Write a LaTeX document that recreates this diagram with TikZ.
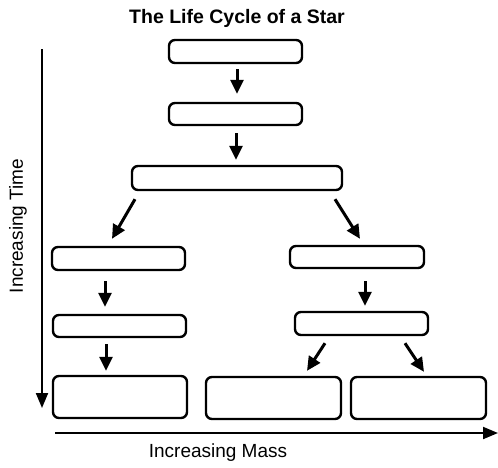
\documentclass[tikz,border=0pt]{standalone}
\usepackage{fontspec}
\setmainfont{Liberation Sans}
\usetikzlibrary{arrows.meta}
\begin{document}
\begin{tikzpicture}[x=1pt,y=-1pt,
  stagebox/.style={draw=black,line width=2.4pt,rounded corners=6pt,inner sep=0pt,fill=white},
  flow/.style={line width=3pt,-{Triangle[length=14pt,width=13pt]}},
  axis/.style={line width=2pt,-{Triangle[length=15pt,width=12pt]}},
  lbl/.style={font=\fontsize{19}{22}\selectfont,inner sep=0pt}]
\useasboundingbox (0,0) rectangle (498,467);
\node[lbl,font=\fontsize{19.5}{22}\selectfont\bfseries] (title) at (237,18) {The Life Cycle of a Star};
\node[stagebox,minimum width=133pt,minimum height=23pt] (b1) at (235.5,51.5) {};
\node[stagebox,minimum width=133pt,minimum height=22pt] (b2) at (235.5,114) {};
\node[stagebox,minimum width=210pt,minimum height=24pt] (b3) at (237,178) {};
\node[stagebox,minimum width=133pt,minimum height=23pt] (l1) at (118.5,258.5) {};
\node[stagebox,minimum width=134pt,minimum height=22pt] (r1) at (357,257) {};
\node[stagebox,minimum width=133pt,minimum height=22pt] (l2) at (119.5,326) {};
\node[stagebox,minimum width=133pt,minimum height=23pt] (r2) at (361.5,323.5) {};
\node[stagebox,minimum width=134pt,minimum height=42pt] (l3) at (120,397) {};
\node[stagebox,minimum width=135pt,minimum height=42pt] (m3) at (273.5,398) {};
\node[stagebox,minimum width=135pt,minimum height=42pt] (r3) at (418.5,398) {};
\draw[flow] ([xshift=1.5pt,yshift=-5pt]b1.south) -- ([xshift=1.5pt,yshift=8pt]b2.north);
\draw[flow] ([xshift=0.5pt,yshift=-7pt]b2.south) -- ([xshift=-1pt,yshift=5pt]b3.north);
\draw[flow] ([xshift=-102pt,yshift=-8pt]b3.south) -- ([xshift=-6.5pt,yshift=7pt]l1.north);
\draw[flow] ([xshift=98pt,yshift=-8pt]b3.south) -- ([xshift=3pt,yshift=6pt]r1.north);
\draw[flow] ([xshift=-13.5pt,yshift=-10pt]l1.south) -- ([xshift=-14.5pt,yshift=7pt]l2.north);
\draw[flow] ([xshift=8pt,yshift=-12pt]r1.south) -- ([xshift=3.5pt,yshift=5pt]r2.north);
\draw[flow] ([xshift=-13.5pt,yshift=-6pt]l2.south) -- ([xshift=-14pt,yshift=4pt]l3.north);
\draw[flow] ([xshift=-36.5pt,yshift=-7pt]r2.south) -- ([xshift=33.5pt,yshift=5pt]m3.north);
\draw[flow] ([xshift=43.5pt,yshift=-7pt]r2.south) -- ([xshift=5.5pt,yshift=4pt]r3.north);
\coordinate (tstart) at (42,49);
\coordinate (tend) at (42,408);
\coordinate (mstart) at (55,433);
\coordinate (mend) at (498,433);
\draw[axis] (tstart) -- (tend);
\draw[axis] (mstart) -- (mend);
\node[lbl,rotate=90] (tlabel) at (18,226) {Increasing Time};
\node[lbl] (mlabel) at (218,453) {Increasing Mass};
\end{tikzpicture}
\end{document}
